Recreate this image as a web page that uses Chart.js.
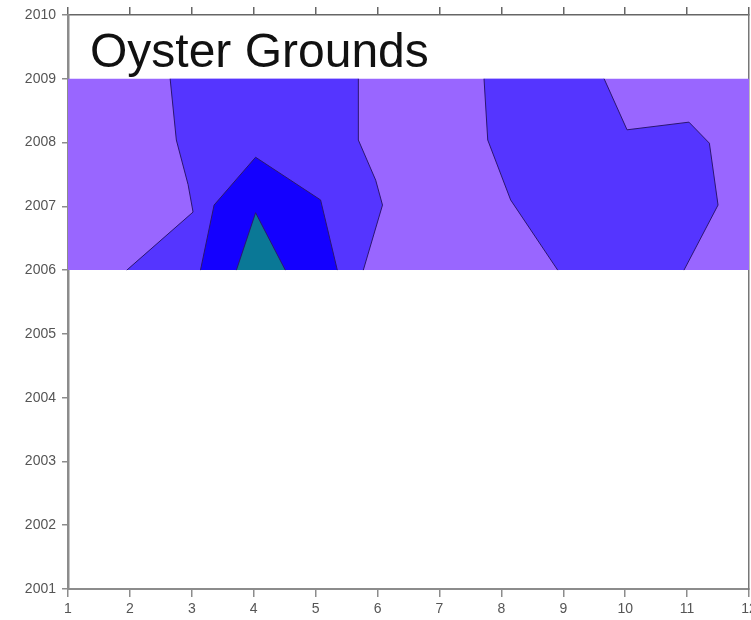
<!DOCTYPE html>
<html>
<head>
<meta charset="utf-8">
<script src="https://cdn.jsdelivr.net/npm/chart.js@4/dist/chart.umd.min.js"></script>
<style>
  html, body { margin: 0; padding: 0; background: #fff; }
  #wrap { width: 751px; height: 620px; position: relative; }
</style>
</head>
<body>
<div id="wrap"><canvas id="contourChart"></canvas></div>
<script>
// ── Axis ticks ───────────────────────────────────────────────
const months = [1, 2, 3, 4, 5, 6, 7, 8, 9, 10, 11, 12];
const years = [2001, 2002, 2003, 2004, 2005, 2006, 2007, 2008, 2009, 2010];
const dataYears = [2006, 2009];

// ── Contour outlines (month, year) ───────────────────────────
const bandMonth = [1, 12, 12, 1];
const bandYear = [2006, 2006, 2009, 2009];

const leftMonth = [2.65, 2.75, 2.94, 3.02, 1.95, 5.77, 6.08, 5.97, 5.69, 5.69];
const leftYear = [2009, 2008.04, 2007.34, 2006.91, 2006, 2006, 2007.02, 2007.41, 2008.04, 2009];

const rightMonth = [7.72, 7.78, 8.15, 8.91, 10.95, 11.50, 11.36, 11.03, 10.03, 9.66];
const rightYear = [2009, 2008.04, 2007.10, 2006, 2006, 2007.02, 2007.99, 2008.32, 2008.20, 2009];

const innerMonth = [3.14, 3.36, 4.03, 5.08, 5.35];
const innerYear = [2006, 2007.02, 2007.77, 2007.10, 2006];

const coreMonth = [3.72, 4.03, 4.51];
const coreYear = [2006, 2006.90, 2006];

function outline(xs, ys) {
    const pts = xs.map((x, i) => ({ x: x, y: ys[i] }));
    pts.push(pts[0]);
    return pts;
}

// no contour line along the top/bottom edge of the data
function edgeSegment(c) {
    const a = c.p0.parsed.y, b = c.p1.parsed.y;
    return (a === b && dataYears.includes(a)) ? 'rgba(0,0,0,0)' : undefined;
}

// filled level area
function area(xs, ys, fillColor) {
    return {
        data: outline(xs, ys),
        showLine: true,
        fill: 'shape',
        backgroundColor: fillColor,
        borderColor: fillColor,
        borderWidth: 0,
        pointRadius: 0,
        pointHoverRadius: 0,
        tension: 0
    };
}

// contour line round the area
function contour(xs, ys) {
    return {
        data: outline(xs, ys),
        showLine: true,
        fill: false,
        borderColor: '#2b1670',
        borderWidth: 1,
        segment: { borderColor: edgeSegment },
        pointRadius: 0,
        pointHoverRadius: 0,
        tension: 0
    };
}

const tickFont = { family: '"Liberation Sans", Arial, sans-serif', size: 14 };
const axisGrey = '#8c8c8c';

// title drawn into the empty strip above 2009
const titlePlugin = {
    id: 'plotTitle',
    afterDraw(chart) {
        const ctx = chart.ctx;
        ctx.save();
        ctx.font = '48px "Liberation Sans", Arial, sans-serif';
        ctx.fillStyle = '#111111';
        ctx.textBaseline = 'alphabetic';
        ctx.fillText('Oyster Grounds', 90, 67);
        ctx.restore();
    }
};

// ── Contour chart ────────────────────────────────────────────
const ctx = document.getElementById('contourChart').getContext('2d');
new Chart(ctx, {
    type: 'scatter',
    data: {
        datasets: [
            contour(coreMonth, coreYear),
            area(coreMonth, coreYear, '#0a7896'),
            contour(innerMonth, innerYear),
            area(innerMonth, innerYear, '#1400ff'),
            contour(leftMonth, leftYear),
            area(leftMonth, leftYear, '#5535ff'),
            contour(rightMonth, rightYear),
            area(rightMonth, rightYear, '#5535ff'),
            area(bandMonth, bandYear, '#9966ff')
        ]
    },
    options: {
        responsive: true,
        maintainAspectRatio: false,
        animation: false,
        layout: { padding: 0 },
        plugins: {
            legend: { display: false },
            tooltip: { enabled: false }
        },
        scales: {
            x: {
                type: 'linear',
                position: 'bottom',
                min: months[0],
                max: months[months.length - 1],
                afterBuildTicks: s => { s.ticks = months.map(v => ({ value: v })); },
                afterFit: s => { s.height = 31; s.paddingLeft = 0; s.paddingRight = 0; },
                grid: { drawOnChartArea: false, color: axisGrey, tickLength: 8, lineWidth: 1.5 },
                border: { color: axisGrey, width: 2 },
                ticks: { color: '#555555', font: tickFont, padding: 4, maxRotation: 0 }
            },
            xTop: {
                type: 'linear',
                position: 'top',
                min: months[0],
                max: months[months.length - 1],
                afterBuildTicks: s => { s.ticks = months.map(v => ({ value: v })); },
                afterFit: s => { s.height = 15; s.paddingLeft = 0; s.paddingRight = 0; },
                grid: { drawOnChartArea: false, color: '#666666', tickLength: 8, lineWidth: 1.5 },
                border: { color: '#666666', width: 1.5 },
                ticks: { display: false }
            },
            y: {
                type: 'linear',
                position: 'left',
                min: years[0],
                max: years[years.length - 1],
                afterBuildTicks: s => { s.ticks = years.map(v => ({ value: v })); },
                afterFit: s => { s.width = 68; },
                grid: { drawOnChartArea: false, color: axisGrey, tickLength: 6, lineWidth: 1.5 },
                border: { color: axisGrey, width: 2.5 },
                ticks: { color: '#555555', font: tickFont, padding: 6, callback: v => String(v) }
            },
            yRight: {
                type: 'linear',
                position: 'right',
                min: years[0],
                max: years[years.length - 1],
                afterFit: s => { s.width = 2; },
                grid: { drawOnChartArea: false, drawTicks: false },
                border: { color: '#777777', width: 1.5 },
                ticks: { display: false }
            }
        }
    },
    plugins: [titlePlugin]
});
</script>
</body>
</html>
